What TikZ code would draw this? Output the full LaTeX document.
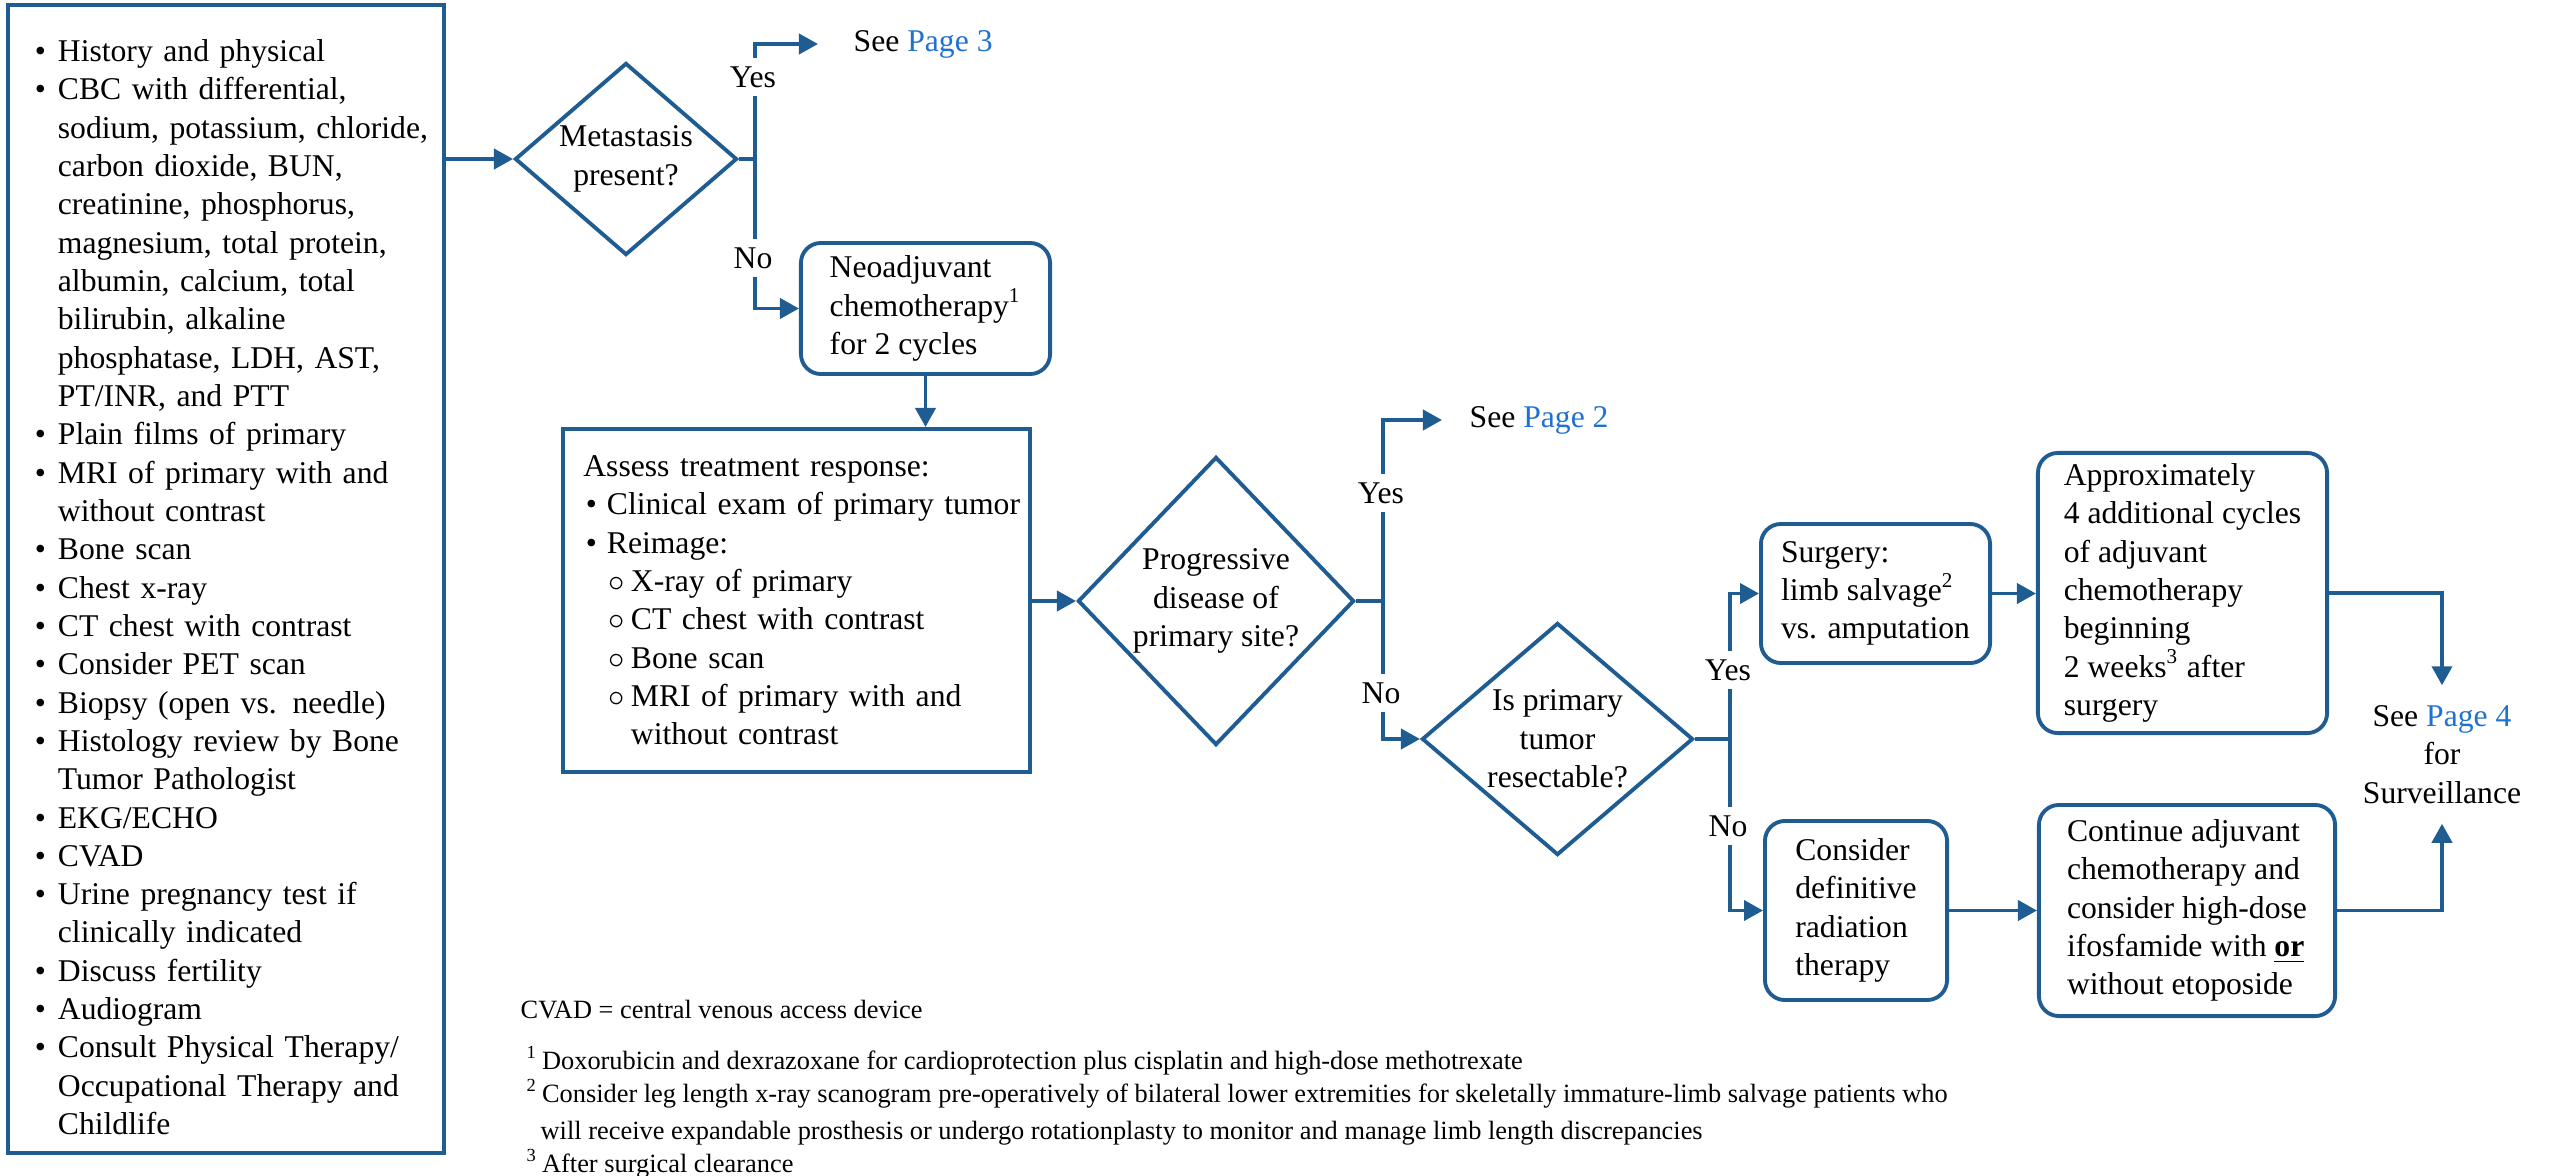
\documentclass[tikz,border=0pt]{standalone}
\usepackage{fontspec}
\setmainfont{Liberation Serif}
\usetikzlibrary{shapes.geometric,arrows.meta}

\definecolor{flowblue}{HTML}{1F5C91}
\definecolor{linkblue}{HTML}{1F72D2}

\newcommand{\seepage}[1]{See \textcolor{linkblue}{Page #1}}

\newenvironment{flowlist}[3]{%
  \begin{list}{#1}{%
    \setlength{\leftmargin}{#2}%
    \setlength{\labelsep}{#3}%
    \setlength{\labelwidth}{\dimexpr #2-#3\relax}%
    \setlength{\itemsep}{0pt}\setlength{\parsep}{0pt}%
    \setlength{\topsep}{0pt}\setlength{\partopsep}{0pt}}}%
  {\end{list}}

\tikzset{
  flowline/.style={draw=flowblue, line width=1.1pt},
  flowarrow/.style={flowline, -{Triangle[length=0.19cm, width=0.2cm]}},
  sqbox/.style={draw=flowblue, line width=1.1pt, align=left, inner ysep=0pt},
  rbox/.style={draw=flowblue, line width=1.1pt, rounded corners=0.2cm, align=left, inner sep=0pt},
  decision/.style={diamond, draw=flowblue, line width=1.1pt, align=center, inner sep=0pt},
  answer/.style={fill=white, inner xsep=1pt, inner ysep=2.5pt},
  fnote/.style={font=\fontsize{7.5}{9.6}\selectfont, anchor=base west, inner sep=0pt},
}

\begin{document}
\begin{tikzpicture}[x=0.01cm, y=-0.01cm, font=\fontsize{9}{10.9}\selectfont]
  \useasboundingbox (0,0) rectangle (2553,1175);

  \node[sqbox, text width=4.1cm, inner xsep=0.13cm, minimum height=11.48cm] (workup) at (226,579) {%
    \begin{flowlist}{\textbullet}{0.37cm}{0.12cm}
      \item History and physical
      \item CBC with differential,\\ sodium, potassium, chloride,\\ carbon dioxide, BUN,\\ creatinine, phosphorus,\\ magnesium, total protein,\\ albumin, calcium, total\\ bilirubin, alkaline\\ phosphatase, LDH, AST,\\ PT/INR, and PTT
      \item Plain films of primary
      \item MRI of primary with and\\ without contrast
      \item Bone scan
      \item Chest x-ray
      \item CT chest with contrast
      \item Consider PET scan
      \item Biopsy (open vs. needle)
      \item Histology review by Bone\\ Tumor Pathologist
      \item EKG/ECHO
      \item CVAD
      \item Urine pregnancy test if\\ clinically indicated
      \item Discuss fertility
      \item Audiogram
      \item Consult Physical Therapy/\\ Occupational Therapy and\\ Childlife
    \end{flowlist}};

  \node[decision, aspect=1.2, minimum width=2.22cm, minimum height=1.92cm] (metast) at (626,159) {Metastasis\\present?};
  \node[anchor=west, inner xsep=0.35cm, inner ysep=0pt] (see3) at (818,44) {\seepage{3}};
  \node[rbox, minimum width=2.49cm, minimum height=1.31cm] (neo) at (925.5,308.5) {Neoadjuvant\\chemotherapy\textsuperscript{1}\\for 2 cycles};

  \node[sqbox, text width=4.6cm, inner xsep=0.035cm, minimum height=3.43cm] (assess) at (796.5,600.5) {%
    \hspace*{0.17cm}Assess treatment response:
    \begin{flowlist}{\textbullet}{0.405cm}{0.1cm}
      \item Clinical exam of primary tumor
      \item Reimage:
      \begin{flowlist}{$\circ$}{0.24cm}{0.06cm}
        \item X-ray of primary
        \item CT chest with contrast
        \item Bone scan
        \item MRI of primary with and\\ without contrast
      \end{flowlist}
    \end{flowlist}};

  \node[decision, minimum width=2.76cm, minimum height=2.88cm] (progress) at (1216,601) {Progressive\\disease of\\primary site?};
  \node[anchor=west, inner xsep=0.27cm, inner ysep=0pt] (see2) at (1442,420) {\seepage{2}};
  \node[decision, aspect=1.17, minimum width=2.71cm, minimum height=2.32cm] (resect) at (1557.5,739) {Is primary\\tumor\\resectable?};

  \node[rbox, minimum width=2.29cm, minimum height=1.39cm] (surgery) at (1875.5,593.5) {Surgery:\\limb salvage\textsuperscript{2}\\vs. amputation};
  \node[rbox, minimum width=2.89cm, minimum height=2.8cm] (approx) at (2182.5,593) {Approximately\\4 additional cycles\\of adjuvant\\chemotherapy\\beginning\\2 weeks\textsuperscript{3} after\\surgery};
  \node[rbox, minimum width=1.82cm, minimum height=1.79cm] (consider) at (1856,910.5) {Consider\\definitive\\radiation\\therapy};
  \node[rbox, minimum width=2.96cm, minimum height=2.11cm] (continue) at (2187,910.5) {Continue adjuvant\\chemotherapy and\\consider high-dose\\ifosfamide with \underline{\textbf{or}}\\without etoposide};
  \node[align=center, inner sep=0pt, minimum height=1.37cm] (see4) at (2442,754.5) {\seepage{4}\\for\\Surveillance};

  \path (metast.east) ++(16,0) coordinate (fork1);
  \path (progress.east) ++(27,0) coordinate (fork2);
  \path (resect.east) ++(35,0) coordinate (fork3);

  \draw[flowarrow] (workup.east |- metast.west) -- (metast.west);
  \draw[flowline] (metast.east) -- (fork1);
  \draw[flowarrow] (fork1) |- (see3.west);
  \draw[flowarrow] (fork1) |- (neo.west);
  \draw[flowarrow] (neo.south) -- (neo.south |- assess.north);
  \draw[flowarrow] (assess.east |- progress.west) -- (progress.west);
  \draw[flowline] (progress.east) -- (fork2);
  \draw[flowarrow] (fork2) |- (see2.west);
  \draw[flowarrow] (fork2) |- (resect.west);
  \draw[flowline] (resect.east) -- (fork3);
  \draw[flowarrow] (fork3) |- (surgery.west);
  \draw[flowarrow] (fork3) |- (consider.west);
  \draw[flowarrow] (surgery.east) -- (surgery.east -| approx.west);
  \draw[flowarrow] (consider.east) -- (consider.east -| continue.west);
  \draw[flowarrow] (approx.east) -| (see4.north);
  \draw[flowarrow] (continue.east) -| (see4.south);

  \node[answer] (yes1) at (753,77) {Yes};
  \node[answer] (no1) at (753,258) {No};
  \node[answer] (yes2) at (1381,493) {Yes};
  \node[answer] (no2) at (1381,693) {No};
  \node[answer] (yes3) at (1728,670) {Yes};
  \node[answer] (no3) at (1728,826) {No};

  \node[fnote] (abbrev) at (520,1018) {CVAD = central venous access device};
  \node[fnote] (note1) at (526,1069) {\textsuperscript{1}\,Doxorubicin and dexrazoxane for cardioprotection plus cisplatin and high-dose methotrexate};
  \node[fnote] (note2) at (526,1102) {\textsuperscript{2}\,Consider leg length x-ray scanogram pre-operatively of bilateral lower extremities for skeletally immature-limb salvage patients who};
  \node[fnote] (note2b) at (540,1139) {will receive expandable prosthesis or undergo rotationplasty to monitor and manage limb length discrepancies};
  \node[fnote] (note3) at (526,1172) {\textsuperscript{3}\,After surgical clearance};
\end{tikzpicture}
\end{document}
